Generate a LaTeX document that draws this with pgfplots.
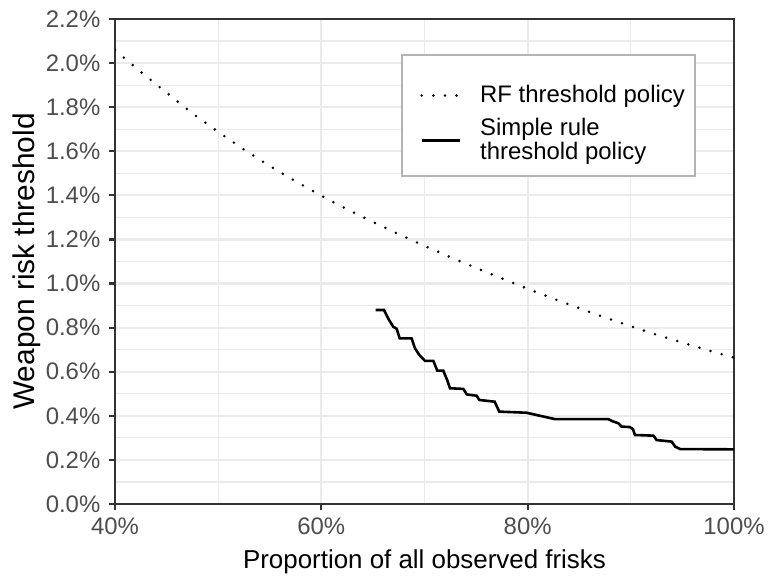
\documentclass[border=0pt]{standalone}
\usepackage{fontspec}
\setmainfont{Liberation Sans}
\usepackage{pgfplots}
\pgfplotsset{compat=1.18}
\definecolor{grey20}{HTML}{333333}
\definecolor{grey30}{HTML}{4D4D4D}
\definecolor{grey92}{HTML}{EBEBEB}
\definecolor{leggrey}{HTML}{B3B3B3}
\pgfplotstableread{
x y
40.0 2.059
42.5 1.960
45.0 1.866
47.5 1.772
50.0 1.688
52.5 1.608
55.0 1.533
57.5 1.464
60.0 1.398
62.5 1.337
65.0 1.279
67.5 1.224
70.0 1.171
72.5 1.120
75.0 1.071
77.5 1.023
80.0 0.976
82.5 0.931
85.0 0.888
87.5 0.846
90.0 0.806
92.5 0.768
95.0 0.732
97.5 0.697
100.0 0.664
}\rfdata
\pgfplotstableread{
x y
65.27 0.880
66.07 0.880
66.50 0.840
66.97 0.804
67.30 0.795
67.60 0.751
68.75 0.751
69.08 0.706
69.50 0.676
70.05 0.649
70.86 0.649
71.24 0.605
71.82 0.605
72.20 0.562
72.47 0.525
73.76 0.522
74.10 0.497
75.06 0.491
75.30 0.472
76.80 0.464
77.25 0.419
79.90 0.414
81.20 0.400
82.65 0.385
87.80 0.385
88.20 0.376
88.80 0.366
89.10 0.351
89.90 0.349
90.20 0.340
90.40 0.313
92.20 0.310
92.50 0.290
93.96 0.283
94.30 0.260
94.80 0.249
100.00 0.248
}\ruledata
\begin{document}
\begin{tikzpicture}
\begin{axis}[
  name=ax, at={(0,0)}, anchor=south west,
  scale only axis, width=309.5bp, height=242.5bp,
  xmin=40, xmax=100, ymin=0, ymax=2.2,
  xtick={40,60,80,100},
  ytick={0,0.2,0.4,0.6,0.8,1.0,1.2,1.4,1.6,1.8,2.0,2.2},
  minor xtick={50,70,90},
  minor ytick={0.1,0.3,0.5,0.7,0.9,1.1,1.3,1.5,1.7,1.9,2.1},
  grid=both,
  major grid style={grey92, line width=1.1bp},
  minor grid style={grey92, line width=0.55bp},
  axis line style={grey20, line width=1.1bp},
  tick style={grey20, line width=1.1bp},
  major tick length=2.75bp, minor tick length=0pt,
  tick align=outside, xtick pos=bottom, ytick pos=left,
  /pgf/number format/assume math mode=true,
  xticklabel={\pgfmathprintnumber[fixed,precision=0]{\tick}\%},
  yticklabel={\pgfmathprintnumber[fixed,fixed zerofill,precision=1]{\tick}\%},
  xticklabel style={font=\fontsize{12}{14}\selectfont, text=grey30, inner sep=0pt},
  yticklabel style={font=\fontsize{12}{14}\selectfont, text=grey30, inner sep=0pt},
  xticklabel shift=4.2bp, yticklabel shift=4.4bp,
  xlabel={Proportion of all observed frisks},
  ylabel={Weapon risk threshold},
  xlabel style={font=\fontsize{13}{15}\selectfont, at={(rel axis cs:0.5,0)}, anchor=base, yshift=-32bp, inner sep=0pt},
  ylabel style={font=\fontsize{15}{17}\selectfont, at={(rel axis cs:0,0.5)}, anchor=base, yshift=40bp, inner sep=0pt},
  legend cell align=left,
  legend image code/.code={\draw[#1] (0bp,0bp) -- (19bp,0bp);},
  legend style={at={(rel axis cs:0.4927,0.864)}, anchor=north west, draw=none, fill=none,
    font=\fontsize{12}{12}\selectfont, cells={align=left}, inner sep=0pt,
    nodes={inner sep=0pt}, column sep=9.5bp, row sep=6.5bp},
]
\draw[leggrey, fill=white, line width=1.1bp] (rel axis cs:0.4637,0.9258) rectangle (rel axis cs:0.937,0.6763);
\addplot[black, line width=1.4bp, line cap=round, dash pattern=on 0pt off 5.8bp] table[x=x,y=y] {\rfdata};
\addlegendentry{RF threshold policy}
\addplot[black, line width=1.3bp] table[x=x,y=y] {\ruledata};
\addlegendentry{Simple rule\\threshold policy}
\end{axis}
\pgfresetboundingbox
\path[use as bounding box] (ax.south west) ++(-57.5bp,-38bp) rectangle ++(384bp,290bp);
\end{tikzpicture}
\end{document}
